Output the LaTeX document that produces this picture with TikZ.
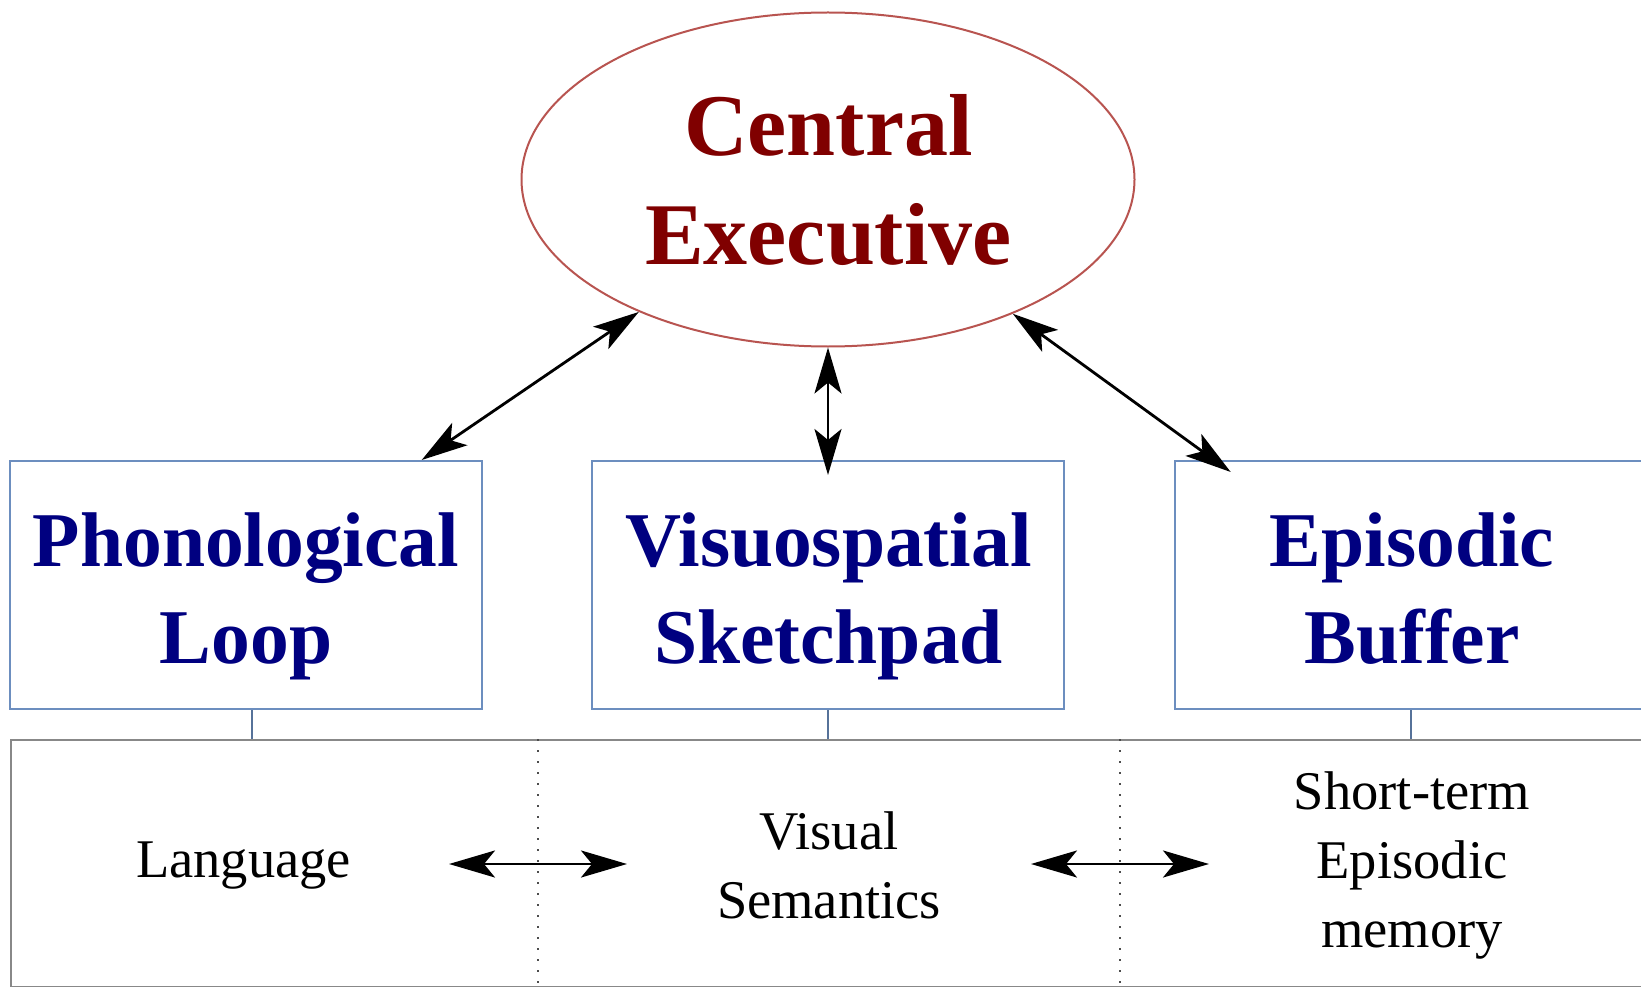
\documentclass[tikz,border=0pt]{standalone}
\usepackage{fontspec}
\setmainfont{Liberation Serif}
\usetikzlibrary{arrows.meta,calc,shapes.geometric}
\definecolor{ceText}{HTML}{800000}
\definecolor{ceLine}{HTML}{B85450}
\definecolor{boxText}{HTML}{000080}
\definecolor{boxLine}{HTML}{6C8EBF}
\definecolor{memLine}{HTML}{888888}
\begin{document}
\begin{tikzpicture}[x=1pt,y=-1pt,
  comp/.style={draw=boxLine, line width=2pt, minimum width=472pt, minimum height=248pt, inner sep=0pt},
  cetxt/.style={anchor=base, inner sep=0pt, text=ceText, font=\fontsize{88}{109}\selectfont\bfseries},
  bigtxt/.style={anchor=base, inner sep=0pt, text=boxText, font=\fontsize{77.5}{97}\selectfont\bfseries},
  smalltxt/.style={anchor=base, inner sep=0pt, font=\fontsize{54.5}{69}\selectfont},
  tipshape/.tip={Stealth[length=46pt,width=27pt,inset=11pt]},
  link/.style={line width=2.8pt, tipshape-tipshape},
  tie/.style={draw=boxLine!80!black, line width=2pt},
  divider/.style={draw=black!70, line width=2pt, dash pattern=on 2pt off 9pt}]
\useasboundingbox (0,0) rectangle (1641,987);
\clip (0,0) rectangle (1641,987);

% central executive
\node[ellipse, draw=ceLine, line width=2pt, minimum width=613pt, minimum height=334pt, inner sep=0pt] (ce) at (828,179.5) {};
\node[cetxt] (cet) at (828.5,156) {\begin{tabular}[t]{@{}c@{}}Central\\Executive\end{tabular}};

% components
\node[comp] (pl) at (246,585) {};
\node[comp] (vs) at (828,585) {};
\node[comp] (eb) at (1411,585) {};
\node[bigtxt] (plt) at (246,566) {\begin{tabular}[t]{@{}c@{}}Phonological\\Loop\end{tabular}};
\node[bigtxt] (vst) at (828.5,566) {\begin{tabular}[t]{@{}c@{}}Visuospatial\\Sketchpad\end{tabular}};
\node[bigtxt] (ebt) at (1412,566) {\begin{tabular}[t]{@{}c@{}}Episodic\\Buffer\end{tabular}};

% long-term memory band
\node[draw=memLine, line width=2pt, minimum width=1660pt, minimum height=247pt, inner sep=0pt, anchor=north west] (mem) at (10,739) {};
\coordinate (t1) at ([xshift=6pt]pl.south);
\draw[tie] (t1) -- (t1 |- mem.north);
\draw[tie] (vs.south) -- (vs.south |- mem.north);
\draw[tie] (eb.south) -- (eb.south |- mem.north);

\coordinate (d1) at (538,863);
\coordinate (d2) at (1120,863);
\draw[divider] (d1 |- mem.north) -- (d1 |- mem.south);
\draw[divider] (d2 |- mem.north) -- (d2 |- mem.south);

\node[smalltxt] (lang) at (243.5,877) {Language};
\node[smalltxt] (vis) at (829,849) {\begin{tabular}[t]{@{}c@{}}Visual\\Semantics\end{tabular}};
\node[smalltxt] (epi) at (1412,809) {\begin{tabular}[t]{@{}c@{}}Short-term\\Episodic\\memory\end{tabular}};

\coordinate (a1l) at (449,864);
\coordinate (a1r) at (627,864);
\coordinate (a2l) at (1031,864);
\coordinate (a2r) at (1209,864);
\draw[link] (a1l) -- (a1r);
\draw[link] (a2l) -- (a2r);

% links to central executive
\draw[link] ([xshift=175.7pt]pl.north) -- (ce.215);
\draw[link] ([yshift=-15pt]vs.north) -- (ce.south);
\draw[link] ([xshift=56.7pt,yshift=-12pt]eb.north west) -- (ce.324);
\end{tikzpicture}
\end{document}
